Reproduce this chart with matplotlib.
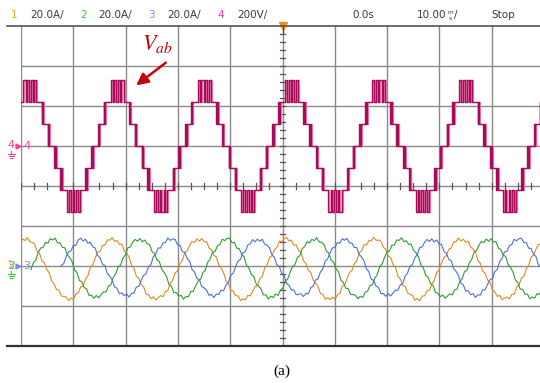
import numpy as np
import matplotlib.pyplot as plt
from matplotlib.lines import Line2D
from matplotlib.patches import FancyArrowPatch

plt.rcParams['mathtext.fontset'] = 'stix'

# Scope settings
time_per_div_ms = 10.0
volt_per_div = 200.0
amp_per_div = 20.0
period_ms = 16.67          # one cycle ~87 px on screen -> 60 Hz

# Channel 4: Vab staircase, switching angles (deg from the positive peak) and level after each edge
vab_step_v = 110.0
vab_peak_ms = -48.3
vab_edge_deg = [-27, -18, -12, -3, 3, 12, 18, 27,
                49, 52, 55,
                73, 76, 79,
                101, 104, 107,
                125, 128, 131,
                153, 162, 168, 177, 183, 192, 198, 207,
                229, 232, 235,
                253, 256, 259,
                281, 284, 287,
                305, 308, 311]
vab_level = [3, 2, 3, 2, 3, 2, 3, 2,
             1, 2, 1,
             0, 1, 0,
             -1, 0, -1,
             -2, -1, -2,
             -3, -2, -3, -2, -3, -2, -3, -2,
             -1, -2, -1,
             0, -1, 0,
             1, 0, 1,
             2, 1, 2]
# later sweep kept on screen by the persistence, edges slightly later
ghost_shift_deg = 4

# Channels 1-3: phase currents (A), one cycle sampled every 10 deg from the rising zero crossing
cur_angle_deg = list(range(0, 360, 10))
ia_cycle = [-1.6, 1.0, 3.5, 5.9, 8.0, 9.9, 11.4, 12.5, 13.2, 13.4, 13.2, 12.5,
            11.4, 9.9, 8.0, 5.9, 3.5, 1.0, -1.6, -4.2, -6.7, -9.1, -11.2, -13.1,
            -14.6, -15.7, -16.4, -16.6, -16.4, -15.7, -14.6, -13.1, -11.2, -9.1, -6.7, -4.2]
ib_cycle = [-1.2, 1.3, 3.8, 6.1, 8.1, 9.9, 11.4, 12.4, 13.1, 13.3, 13.1, 12.4,
            11.4, 9.9, 8.1, 6.1, 3.8, 1.3, -1.2, -3.7, -6.2, -8.5, -10.5, -12.3,
            -13.8, -14.8, -15.5, -15.7, -15.5, -14.8, -13.8, -12.3, -10.5, -8.5, -6.2, -3.7]
ic_cycle = [-0.8, 1.6, 4.0, 6.2, 8.2, 9.9, 11.3, 12.4, 13.0, 13.2, 13.0, 12.4,
            11.3, 9.9, 8.2, 6.2, 4.0, 1.6, -0.8, -3.2, -5.6, -7.8, -9.8, -11.5,
            -12.9, -14.0, -14.6, -14.8, -14.6, -14.0, -12.9, -11.5, -9.8, -7.8, -5.6, -3.2]
cur_start_ms = [-53.4, -48.1, -42.3]
ripple_a = [0.9, -0.7, 0.4, -1.0, 0.6, -0.3, 0.8, -0.9, 0.2, -0.6, 1.0, -0.4, 0.5]

cur_colors = ['#e08a1e', '#2e9e2e', '#4b6fe0']
vab_color = '#a80c58'
ghost_color = '#ec8cbc'

W, H = 540, 383


def fx(x):
    return x / W


def fy(y):
    return 1 - y / H


fig = plt.figure(figsize=(5.4, 3.83), dpi=100)
# scope screen: 10 x 8 divisions, right edge runs off the picture
ax = fig.add_axes([fx(21), fy(346), 523 / W, 320 / H])
ax.set_xlim(-5 * time_per_div_ms, 5 * time_per_div_ms)
ax.set_ylim(-4, 4)
ax.axis('off')

# grid
for i in range(-5, 6):
    ax.axvline(i * time_per_div_ms, color='#8a8a8a', lw=1.0, zorder=1)
for j in range(-3, 4):
    ax.axhline(j, color='#8a8a8a', lw=1.0, zorder=1)
# minor ticks on the centre lines
for t in np.arange(-50, 50.1, 2.5):
    ax.plot([t, t], [-0.065, 0.065], color='#555555', lw=0.9, zorder=1)
for v in np.arange(-4, 4.01, 0.2):
    ax.plot([-0.45, 0.45], [v, v], color='#555555', lw=0.9, zorder=1)


def vab_trace(shift):
    t_e, y_e = [], []
    for k in range(-1, 7):
        peak = vab_peak_ms + k * period_ms
        for d, lv in zip(vab_edge_deg, vab_level):
            t_e.append(peak + (d + shift) / 360 * period_ms)
            y_e.append(1 + lv * vab_step_v / volt_per_div)
    return t_e, y_e


# Vab trace: faint persistence sweep underneath, latest sweep on top
lo3 = 1 + 3 * vab_step_v / volt_per_div
lo2 = 1 + 2 * vab_step_v / volt_per_div
for k in range(-1, 7):
    peak = vab_peak_ms + k * period_ms
    ax.fill_between([peak - 27 / 360 * period_ms, peak + 27 / 360 * period_ms],
                    lo2, lo3, color='#f8d2e4', lw=0, zorder=2)
    ax.fill_between([peak + 153 / 360 * period_ms, peak + 207 / 360 * period_ms],
                    2 - lo2, 2 - lo3, color='#f8d2e4', lw=0, zorder=2)
tg, yg = vab_trace(ghost_shift_deg)
ax.step(tg, yg, where='post', color=ghost_color, lw=0.9, zorder=2.5)
tv, yv = vab_trace(0)
ax.step(tv, yv, where='post', color=vab_color, lw=1.0, zorder=3)

# current traces
for cyc, start, col, off in zip([ia_cycle, ib_cycle, ic_cycle], cur_start_ms, cur_colors, [0, 4, 8]):
    n_cyc = 7
    t = np.concatenate([start + (k * 360 + np.array(cur_angle_deg)) / 360 * period_ms for k in range(n_cyc)])
    vals = np.tile(cyc, n_cyc) + np.roll(np.resize(ripple_a, len(t)), off)
    ax.plot(t, -2 + vals / amp_per_div, color=col, lw=0.8, zorder=4)

# trigger marker
ax.plot([0], [4.0], marker='v', color='#f08c1e', markersize=6, clip_on=False, zorder=6)
fig.add_artist(Line2D([fx(282.5), fx(282.5)], [fy(27), fy(33)], color='#444444', lw=0.8))

# screen frame
fig.add_artist(Line2D([fx(7), 1], [fy(26), fy(26)], color='#555555', lw=1.2))
fig.add_artist(Line2D([fx(7), 1], [fy(346), fy(346)], color='#333333', lw=1.6))

# header line
hdr = dict(fontsize=7.5, va='center', color='#3a3a3a', family='DejaVu Sans')
hy = fy(15)
fig.text(fx(11), hy, '1', **{**hdr, 'color': '#f5a623'})
fig.text(fx(30), hy, '20.0A/', **hdr)
fig.text(fx(80), hy, '2', **{**hdr, 'color': '#33cc33'})
fig.text(fx(98), hy, '20.0A/', **hdr)
fig.text(fx(148), hy, '3', **{**hdr, 'color': '#7a8cf0'})
fig.text(fx(167), hy, '20.0A/', **hdr)
fig.text(fx(217), hy, '4', **{**hdr, 'color': '#ff3ca0'})
fig.text(fx(237), hy, '200V/', **hdr)
fig.text(fx(352), hy, '0.0s', **hdr)
fig.text(fx(417), hy, '10.00', **hdr)
fig.text(fx(450.5), fy(12.5), 'm', **{**hdr, 'fontsize': 4.2, 'ha': 'center'})
fig.text(fx(450.5), fy(18), 's', **{**hdr, 'fontsize': 4.2, 'ha': 'center'})
fig.text(fx(454), hy, '/', **hdr)
fig.text(fx(491), hy, 'Stop', **hdr)


# channel ground markers
def ground(x, y, col):
    fig.add_artist(Line2D([fx(x), fx(x)], [fy(y), fy(y + 3)], color=col, lw=0.8))
    for w, dy in [(3.5, 3), (2.5, 5), (1.2, 7)]:
        fig.add_artist(Line2D([fx(x - w), fx(x + w)], [fy(y + dy), fy(y + dy)], color=col, lw=0.8))


fig.text(fx(11), fy(145), '4', fontsize=8, color='#ff3ca0', ha='center', va='center')
fig.add_artist(Line2D([fx(18)], [fy(146)], marker='>', color='#ff3ca0', markersize=3.5))
ground(11, 151, '#ff3ca0')
fig.text(fx(27), fy(146), '4', fontsize=8, color='#ff3ca0', ha='center', va='center')

fig.text(fx(10), fy(265), '1', fontsize=8, color='#f5a623', ha='center', va='center', alpha=0.7)
fig.text(fx(12), fy(266), '2', fontsize=8, color='#33cc33', ha='center', va='center', alpha=0.7)
fig.text(fx(11), fy(266), '3', fontsize=8, color='#7a8cf0', ha='center', va='center', alpha=0.8)
fig.add_artist(Line2D([fx(18)], [fy(266)], marker='>', color='#7a8cf0', markersize=3.5))
ground(11, 271, '#33cc33')
fig.text(fx(27), fy(266), '3', fontsize=8, color='#7a8cf0', ha='center', va='center')

# Vab label and arrow
fig.text(fx(142), fy(50), r'$V_{ab}$', fontsize=16, color='#c00000', va='baseline', ha='left')
fig.add_artist(FancyArrowPatch((fx(168), fy(61)), (fx(134), fy(87)), transform=fig.transFigure,
                               arrowstyle='-|>,head_length=0.5,head_width=0.25',
                               mutation_scale=14, color='#c8000a', lw=1.8))

# caption
fig.text(fx(282), fy(371), '(a)', fontsize=11, family='Liberation Serif', ha='center', va='center')

fig.savefig('out.png', dpi=100)
